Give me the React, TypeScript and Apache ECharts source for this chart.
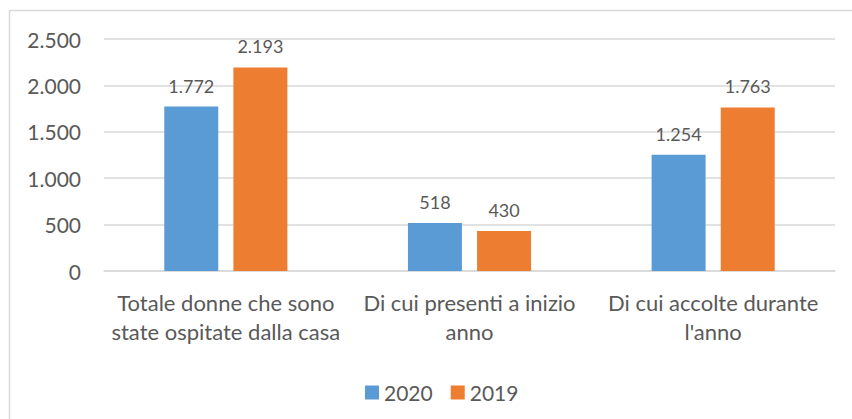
import React, { useEffect, useRef } from "react";
import * as echarts from "echarts";

const categories = [
  "Totale donne che sono\nstate ospitate dalla casa",
  "Di cui presenti a inizio\nanno",
  "Di cui accolte durante\nl'anno",
];
const seriesNames = ["2020", "2019"];
const values2020 = [1772, 518, 1254];
const values2019 = [2193, 430, 1763];
const yMin = 0;
const yMax = 2500;
const yInterval = 500;

const fmt = (v: number) =>
  String(Math.round(v)).replace(/\B(?=(\d{3})+(?!\d))/g, ".");

const FONT = "Lato, 'Open Sans', sans-serif";
const TEXT = "#595959";

export default function App() {
  const ref = useRef<HTMLDivElement>(null);
  useEffect(() => {
    if (!ref.current) return;
    const chart = echarts.init(ref.current, undefined, { renderer: "svg" });
    chart.setOption({
      animation: false,
      backgroundColor: "#ffffff",
      textStyle: { fontFamily: FONT, color: TEXT },
      graphic: [
        {
          type: "rect",
          silent: true,
          z: -10,
          shape: { x: 9.5, y: 10.5, width: 900, height: 500 },
          style: { fill: "none", stroke: "#d9d9d9", lineWidth: 1.5 },
        },
      ],
      grid: { left: 104, right: 17, top: 39, bottom: 148, containLabel: false },
      legend: {
        data: seriesNames,
        left: 360,
        top: 377,
        itemWidth: 14,
        itemHeight: 14,
        itemGap: 18,
        icon: "rect",
        textStyle: { fontFamily: FONT, color: TEXT, fontSize: 21 },
      },
      xAxis: {
        type: "category",
        data: categories,
        axisLine: { lineStyle: { color: "#d9d9d9", width: 1.5 } },
        axisTick: { show: false },
        axisLabel: {
          fontFamily: FONT,
          color: TEXT,
          fontSize: 22,
          lineHeight: 29,
          margin: 17,
          interval: 0,
        },
      },
      yAxis: {
        type: "value",
        min: yMin,
        max: yMax,
        interval: yInterval,
        axisLine: { show: false },
        axisTick: { show: false },
        splitLine: { lineStyle: { color: "#d9d9d9", width: 1.5 } },
        axisLabel: {
          fontFamily: FONT,
          color: TEXT,
          fontSize: 21,
          margin: 23,
          formatter: (v: number) => fmt(v),
        },
      },
      series: [
        {
          name: seriesNames[0],
          type: "bar",
          data: values2020,
          barWidth: 54,
          barGap: "28%",
          itemStyle: { color: "#5b9bd5" },
          label: {
            show: true,
            position: "top",
            distance: 12,
            fontFamily: FONT,
            fontSize: 18,
            color: TEXT,
            formatter: (p: any) => fmt(p.value),
          },
        },
        {
          name: seriesNames[1],
          type: "bar",
          data: values2019,
          barWidth: 54,
          barGap: "28%",
          itemStyle: { color: "#ed7d31" },
          label: {
            show: true,
            position: "top",
            distance: 12,
            fontFamily: FONT,
            fontSize: 18,
            color: TEXT,
            formatter: (p: any) => fmt(p.value),
          },
        },
      ],
    });
    return () => chart.dispose();
  }, []);
  return (
    <div
      ref={ref}
      style={{ position: "fixed", left: 0, top: 0, width: 852, height: 419 }}
    />
  );
}
